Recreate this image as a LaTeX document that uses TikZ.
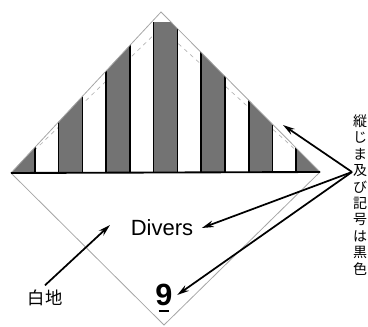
\documentclass[tikz,border=0pt]{standalone}
\usepackage{fontspec}
\setmainfont{Liberation Sans}
\newfontfamily\jpfont{Noto Sans CJK JP}
\usetikzlibrary{arrows.meta}

\begin{document}
\begin{tikzpicture}[
        x=0.75pt, y=-0.75pt,
        >={Stealth[length=9pt, width=5pt]},
        edge/.style={gray!70, line width=0.6pt},
        innerline/.style={gray!60, dashed, line width=0.5pt},
        darkstripe/.style={fill=black!55, draw=black, line width=1.2pt},
        arrow/.style={->, line width=1.3pt},
        jplabel/.style={font=\jpfont\fontsize{13}{13}\selectfont}
    ]
        \useasboundingbox (0,0) rectangle (368,327);

        % Diamond corners
        \coordinate (top) at (161,12);
        \coordinate (left) at (11,173);
        \coordinate (right) at (320,172);
        \coordinate (bottom) at (164,325);
        \coordinate (itop) at (161,28);

        % Inner border line
        \draw[innerline] (left) -- (itop) -- (right);

        % Seven dark stripes in the upper half
        \begin{scope}
            \clip (left) -- (top) -- (right) -- cycle;
            \clip (0,23) rectangle (368,173);
            \foreach \i in {0,2,...,12}
                \draw[darkstripe] ({11+\i*23.77},173) rectangle ({11+(\i+1)*23.77},0);
        \end{scope}

        % Outer edge and base line
        \draw[edge] (left) -- (top) -- (right) -- (bottom) -- cycle;
        \draw[line width=1.4pt] (left) -- (right);

        % Texts
        \node (divers) [font=\fontsize{16.5}{18}\selectfont] at (162,228) {Divers};
        \node (nine) [font=\bfseries\fontsize{23}{24}\selectfont] at (164,295) {9};
        \draw[line width=1.5pt] ([xshift=-4pt]nine.south) -- ([xshift=4pt]nine.south);
        \node (baiji) [jplabel] at (45,298) {白地};
        \node (vtext) [font=\jpfont\fontsize{10.5}{12.3}\selectfont, align=center] at (360,195)
            {縦\\じ\\ま\\及\\び\\記\\号\\は\\黒\\色};

        % Arrows
        \coordinate (hub) at (352,172);
        \coordinate (stripetip) at (283,125);
        \coordinate (whitetip) at (110,225);
        \draw[arrow] (hub) -- (stripetip);
        \draw[arrow] (hub) -- ([xshift=3pt]divers.east);
        \draw[arrow] (hub) -- (nine.east);
        \draw[arrow] (baiji.north) -- (whitetip);
    \end{tikzpicture}
\end{document}
